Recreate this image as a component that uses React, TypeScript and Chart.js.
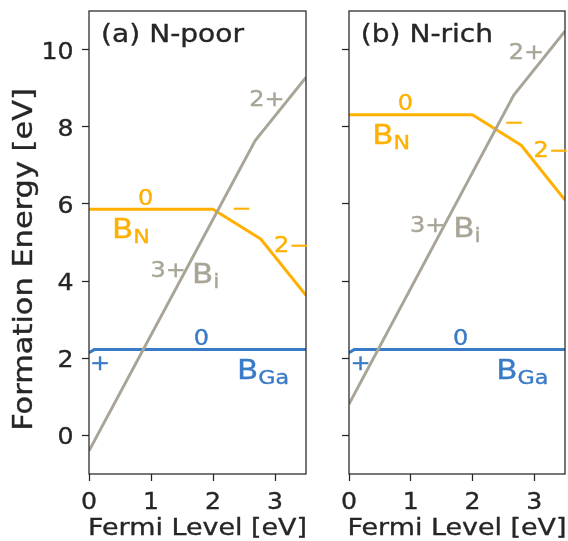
import React, { useEffect, useRef } from 'react';
import { Chart, registerables } from 'chart.js';

Chart.register(...registerables);

// ---------- data ----------
const xTickValues = [0, 1, 2, 3];
const yTickValues = [0, 2, 4, 6, 8, 10];
const X_MIN = 0;
const X_MAX = 3.5;
const Y_MIN = -1;
const Y_MAX = 11;

// Panel (a) N-poor
const poorBN_x = [0, 2.0, 2.77, 3.5];
const poorBN_y = [5.86, 5.86, 5.09, 3.63];
const poorBi_x = [0, 2.68, 3.5];
const poorBi_y = [-0.4, 7.64, 9.28];
const poorBGa_x = [0, 0.09, 3.5];
const poorBGa_y = [2.14, 2.23, 2.23];

// Panel (b) N-rich
const richBN_x = [0, 2.0, 2.79, 3.5];
const richBN_y = [8.31, 8.31, 7.52, 6.1];
const richBi_x = [0, 2.67, 3.5];
const richBi_y = [0.81, 8.82, 10.48];
const richBGa_x = [0, 0.09, 3.5];
const richBGa_y = [2.14, 2.23, 2.23];

// ---------- styles ----------
const FONT = '"DejaVu Sans", sans-serif';
const TEXT = '#262626';
const ORANGE = '#ffb000';
const GRAY = '#a8a496';
const BLUE = '#3a7bc8';
const STRETCH = 1.17;
const TICK_STRETCH = 1.12;

type Label = { text: string; sub?: string; x: number; y: number; color: string; kind: 'title' | 'charge' | 'name' };

const labelsA: Label[] = [
  { text: '(a) N-poor', x: 0.195, y: 10.19, color: TEXT, kind: 'title' },
  { text: '0', x: 0.79, y: 5.97, color: ORANGE, kind: 'charge' },
  { text: 'B', sub: 'N', x: 0.371, y: 5.11, color: ORANGE, kind: 'name' },
  { text: '\u2212', x: 2.3, y: 5.7, color: ORANGE, kind: 'charge' },
  { text: '2\u2212', x: 2.985, y: 4.76, color: ORANGE, kind: 'charge' },
  { text: '2+', x: 2.585, y: 8.53, color: GRAY, kind: 'charge' },
  { text: '3+', x: 0.99, y: 4.1, color: GRAY, kind: 'charge' },
  { text: 'B', sub: 'i', x: 1.66, y: 3.95, color: GRAY, kind: 'name' },
  { text: '0', x: 1.69, y: 2.35, color: BLUE, kind: 'charge' },
  { text: '+', x: 0.018, y: 1.7, color: BLUE, kind: 'charge' },
  { text: 'B', sub: 'Ga', x: 2.386, y: 1.46, color: BLUE, kind: 'name' },
];

const labelsB: Label[] = [
  { text: '(b) N-rich', x: 0.19, y: 10.19, color: TEXT, kind: 'title' },
  { text: '0', x: 0.79, y: 8.43, color: ORANGE, kind: 'charge' },
  { text: 'B', sub: 'N', x: 0.376, y: 7.55, color: ORANGE, kind: 'name' },
  { text: '\u2212', x: 2.51, y: 7.95, color: ORANGE, kind: 'charge' },
  { text: '2\u2212', x: 2.99, y: 7.22, color: ORANGE, kind: 'charge' },
  { text: '2+', x: 2.59, y: 9.76, color: GRAY, kind: 'charge' },
  { text: '3+', x: 0.99, y: 5.26, color: GRAY, kind: 'charge' },
  { text: 'B', sub: 'i', x: 1.69, y: 5.13, color: GRAY, kind: 'name' },
  { text: '0', x: 1.686, y: 2.35, color: BLUE, kind: 'charge' },
  { text: '+', x: 0.023, y: 1.7, color: BLUE, kind: 'charge' },
  { text: 'B', sub: 'Ga', x: 2.386, y: 1.46, color: BLUE, kind: 'name' },
];

const SIZES = { title: 24, charge: 20.5, name: 26.5, sub: 19, tick: 22.5, xTitle: 23, yTitle: 26 };

function zip(xs: number[], ys: number[]) {
  return xs.map((x, i) => ({ x, y: ys[i] }));
}

function drawText(
  ctx: CanvasRenderingContext2D,
  text: string,
  x: number,
  y: number,
  size: number,
  color: string,
  align: CanvasTextAlign = 'left',
  stretch: number = STRETCH
) {
  ctx.save();
  ctx.translate(x, y);
  ctx.scale(stretch, 1);
  ctx.font = `${size}px ${FONT}`;
  ctx.fillStyle = color;
  ctx.strokeStyle = color;
  ctx.lineWidth = 0.35;
  ctx.textAlign = align;
  ctx.textBaseline = 'alphabetic';
  ctx.fillText(text, 0, 0);
  ctx.strokeText(text, 0, 0);
  const w = ctx.measureText(text).width * stretch;
  ctx.restore();
  return w;
}

type Panel = {
  bn: { x: number[]; y: number[] };
  bi: { x: number[]; y: number[] };
  bga: { x: number[]; y: number[] };
  labels: Label[];
  yAxisWidth: number;
  padRight: number;
  showYLabels: boolean;
  yTitle: boolean;
};

const panelA: Panel = {
  bn: { x: poorBN_x, y: poorBN_y },
  bi: { x: poorBi_x, y: poorBi_y },
  bga: { x: poorBGa_x, y: poorBGa_y },
  labels: labelsA,
  yAxisWidth: 89,
  padRight: 4,
  showYLabels: true,
  yTitle: true,
};

const panelB: Panel = {
  bn: { x: richBN_x, y: richBN_y },
  bi: { x: richBi_x, y: richBi_y },
  bga: { x: richBGa_x, y: richBGa_y },
  labels: labelsB,
  yAxisWidth: 39,
  padRight: 3,
  showYLabels: false,
  yTitle: false,
};

function makeConfig(p: Panel): any {
  const framePlugin = {
    id: 'frame',
    afterDatasetsDraw(chart: any) {
      const { ctx, chartArea } = chart;
      ctx.save();
      ctx.strokeStyle = TEXT;
      ctx.lineWidth = 1.25;
      ctx.strokeRect(chartArea.left, chartArea.top, chartArea.right - chartArea.left, chartArea.bottom - chartArea.top);
      ctx.restore();
    },
    afterDraw(chart: any) {
      const { ctx, chartArea, scales } = chart;
      const xs = scales.x;
      const ys = scales.y;
      // tick labels
      for (const v of xTickValues) {
        drawText(ctx, String(v), xs.getPixelForValue(v), chartArea.bottom + 35, SIZES.tick, TEXT, 'center', TICK_STRETCH);
      }
      if (p.showYLabels) {
        for (const v of yTickValues) {
          drawText(ctx, String(v), chartArea.left - 15.5, ys.getPixelForValue(v) + 9, SIZES.tick, TEXT, 'right', TICK_STRETCH);
        }
      }
      // annotations
      for (const l of p.labels) {
        const px = xs.getPixelForValue(l.x);
        const py = ys.getPixelForValue(l.y);
        const size = SIZES[l.kind];
        const w = drawText(ctx, l.text, px, py, size, l.color);
        if (l.sub) {
          drawText(ctx, l.sub, px + w, py + 5, SIZES.sub, l.color);
        }
      }
      // x-axis title
      const cx = (chartArea.left + chartArea.right) / 2;
      drawText(ctx, 'Fermi Level [eV]', cx, 535, SIZES.xTitle, TEXT, 'center');
      if (p.yTitle) {
        ctx.save();
        ctx.translate(31.5, 259.5);
        ctx.rotate(-Math.PI / 2);
        drawText(ctx, 'Formation Energy [eV]', 0, 0, SIZES.yTitle, TEXT, 'center');
        ctx.restore();
      }
    },
  };

  const lineDs = (xs: number[], ys: number[], color: string) => ({
    data: zip(xs, ys),
    borderColor: color,
    backgroundColor: color,
    borderWidth: 3,
    pointRadius: 0,
    tension: 0,
    fill: false,
    borderJoinStyle: 'round',
  });

  return {
    type: 'line',
    data: {
      datasets: [
        lineDs(p.bi.x, p.bi.y, GRAY),
        lineDs(p.bga.x, p.bga.y, BLUE),
        lineDs(p.bn.x, p.bn.y, ORANGE),
      ],
    },
    options: {
      animation: false,
      responsive: false,
      maintainAspectRatio: false,
      layout: { padding: { left: 0, right: p.padRight, top: 11, bottom: 0 } },
      plugins: { legend: { display: false }, tooltip: { enabled: false } },
      scales: {
        x: {
          type: 'linear',
          min: X_MIN,
          max: X_MAX,
          afterBuildTicks: (s: any) => {
            s.ticks = xTickValues.map((v) => ({ value: v }));
          },
          afterFit: (s: any) => {
            s.height = 67;
            s.paddingLeft = 0;
            s.paddingRight = 0;
          },
          border: { display: false },
          grid: { drawOnChartArea: false, drawTicks: true, tickLength: 7, tickWidth: 1.25, tickColor: TEXT },
          ticks: { display: false, autoSkip: false },
        },
        y: {
          type: 'linear',
          min: Y_MIN,
          max: Y_MAX,
          afterBuildTicks: (s: any) => {
            s.ticks = yTickValues.map((v) => ({ value: v }));
          },
          afterFit: (s: any) => {
            s.width = p.yAxisWidth;
            s.paddingTop = 0;
            s.paddingBottom = 0;
          },
          border: { display: false },
          grid: { drawOnChartArea: false, drawTicks: true, tickLength: 7, tickWidth: 1.25, tickColor: TEXT },
          ticks: { display: false, autoSkip: false },
        },
      },
    },
    plugins: [framePlugin],
  };
}

export default function App() {
  const leftRef = useRef<HTMLCanvasElement>(null);
  const rightRef = useRef<HTMLCanvasElement>(null);

  useEffect(() => {
    const c1 = new Chart(leftRef.current as HTMLCanvasElement, makeConfig(panelA));
    const c2 = new Chart(rightRef.current as HTMLCanvasElement, makeConfig(panelB));
    return () => {
      c1.destroy();
      c2.destroy();
    };
  }, []);

  return (
    <div style={{ position: 'absolute', left: 0, top: 0, width: 568, height: 541, background: '#fff' }}>
      <canvas ref={leftRef} width={310} height={541} style={{ position: 'absolute', left: 0, top: 0, width: 310, height: 541 }} />
      <canvas ref={rightRef} width={258} height={541} style={{ position: 'absolute', left: 310, top: 0, width: 258, height: 541 }} />
    </div>
  );
}
